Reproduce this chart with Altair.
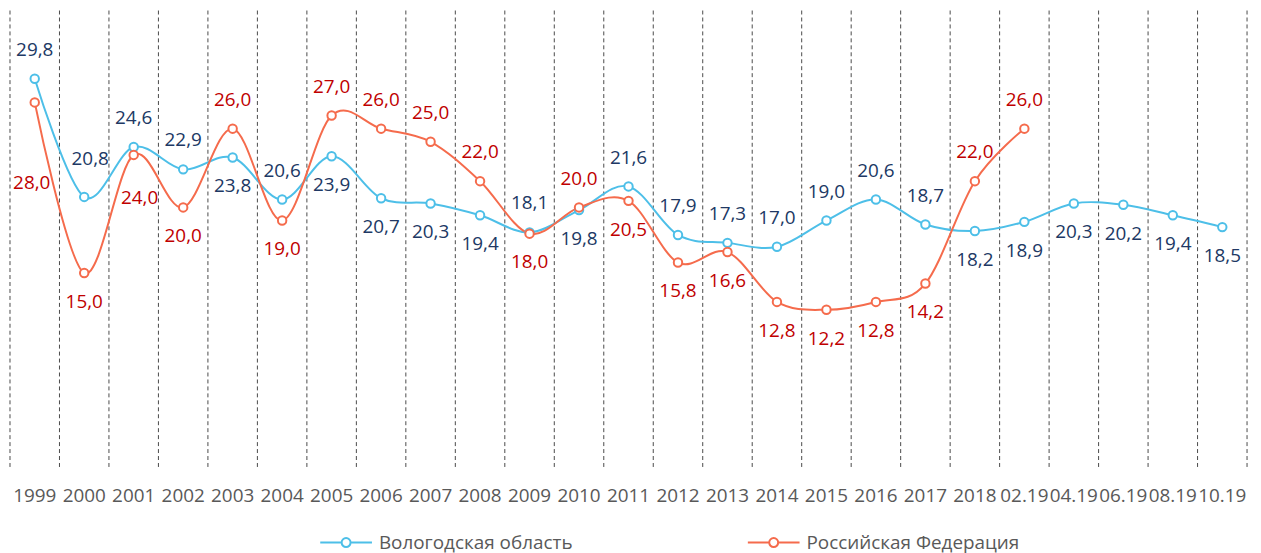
import altair as alt
import pandas as pd

categories = ["1999", "2000", "2001", "2002", "2003", "2004", "2005", "2006", "2007",
              "2008", "2009", "2010", "2011", "2012", "2013", "2014", "2015", "2016",
              "2017", "2018", "02.19", "04.19", "06.19", "08.19", "10.19"]

series_names = ["Вологодская область", "Российская Федерация"]

vologda = [29.8, 20.8, 24.6, 22.9, 23.8, 20.6, 23.9, 20.7, 20.3, 19.4, 18.1, 19.8, 21.6,
           17.9, 17.3, 17.0, 19.0, 20.6, 18.7, 18.2, 18.9, 20.3, 20.2, 19.4, 18.5]

russia = [28.0, 15.0, 24.0, 20.0, 26.0, 19.0, 27.0, 26.0, 25.0, 22.0, 18.0, 20.0, 20.5,
          15.8, 16.6, 12.8, 12.2, 12.8, 14.2, 22.0, 26.0, None, None, None, None]

# label placement codes (style)
vologda_pos = ["u", "u2", "u", "u", "d", "u", "d", "d", "d", "d", "u", "d", "u",
               "u", "u", "u", "u", "u", "u", "d", "d", "d", "d", "d", "d"]
russia_pos = ["d3", "d", "d2", "d", "u", "d", "u", "u", "u", "u", "d", "u", "d",
              "d", "d", "d", "d", "d", "d", "u", "u", None, None, None, None]
placement = {"u": (0, -29), "u2": (6, -38), "d": (0, 29), "d2": (6, 43), "d3": (-3, 81)}

BLUE = "#4DBFE8"
RED = "#F56B4C"
BLUE_TXT = "#203864"
RED_TXT = "#C00000"
GREY = "#595959"
FONT = "Open Sans"
FS = 19

rows = []
for name, vals, poss in [(series_names[0], vologda, vologda_pos), (series_names[1], russia, russia_pos)]:
    for c, v, p in zip(categories, vals, poss):
        if v is None:
            continue
        rows.append({"cat": c, "series": name, "value": v, "pos": p,
                     "label": f"{v:.1f}".replace(".", ",")})
df = pd.DataFrame(rows)
grid_df = pd.DataFrame({"cat": categories})
last_df = pd.DataFrame({"cat": categories[-1:]})

W, H = 1244, 462
xscale = alt.Scale(type="band", domain=categories, paddingInner=0, paddingOuter=0)
yscale = alt.Scale(domain=[0, 35], nice=False, zero=True)
xaxis = alt.Axis(title=None, domain=False, ticks=False, grid=False, labelAngle=0,
                 labelFont=FONT, labelFontSize=FS, labelColor=GREY,
                 labelPadding=17, labelOverlap=False, labelLimit=0, bandPosition=0.5)


def X(band):
    return alt.X("cat:N", scale=xscale, bandPosition=band, axis=xaxis)


Y = alt.Y("value:Q", scale=yscale, axis=None)

grid = alt.Chart(grid_df).mark_rule(color="#4a4a4a", strokeDash=[4, 3], strokeWidth=1).encode(
    x=X(0), y=alt.value(0), y2=alt.value(H),
)
grid_last = alt.Chart(last_df).mark_rule(color="#4a4a4a", strokeDash=[4, 3], strokeWidth=1).encode(
    x=X(1), y=alt.value(0), y2=alt.value(H),
)

legend_path = ("M-1,0L-0.173,0M0.173,0L1,0M-0.173,0A0.173,0.173,0,1,0,0.173,0"
               "A0.173,0.173,0,1,0,-0.173,0Z")

lines = alt.Chart(df).mark_line(interpolate="cardinal", strokeWidth=2).encode(
    x=X(0.5), y=Y,
    color=alt.Color("series:N", scale=alt.Scale(domain=series_names, range=[BLUE, RED]),
                    legend=alt.Legend(title=None, orient="none", direction="horizontal",
                                      legendX=311, legendY=508, symbolType=legend_path,
                                      symbolSize=2704, symbolStrokeWidth=2,
                                      symbolFillColor="white", labelFont=FONT,
                                      labelFontSize=FS, labelColor=GREY,
                                      labelOffset=6, columnPadding=172, padding=0,
                                      labelLimit=0)),
)

points = alt.Chart(df).mark_point(shape="circle", filled=True, fill="white", size=72,
                                  strokeWidth=2, opacity=1).encode(
    x=X(0.5), y=Y,
    stroke=alt.Stroke("series:N", scale=alt.Scale(domain=series_names, range=[BLUE, RED]),
                      legend=None),
)

text_layers = []
for name, color in [(series_names[0], BLUE_TXT), (series_names[1], RED_TXT)]:
    for code, (dx, dy) in placement.items():
        text_layers.append(
            alt.Chart(df).transform_filter(
                (alt.datum.series == name) & (alt.datum.pos == code)
            ).mark_text(font=FONT, fontSize=FS, color=color, baseline="middle",
                        align="center", dx=dx, dy=dy).encode(
                x=X(0.5), y=Y, text="label:N",
            )
        )

chart = alt.layer(grid, grid_last, lines, points, *text_layers).properties(
    width=W, height=H,
    autosize=alt.AutoSizeParams(type="none"),
    padding={"left": 2, "top": 1, "right": 6, "bottom": 86},
).configure_view(stroke=None)

chart.save("out.html", embed_options={"renderer": "svg", "actions": False})
